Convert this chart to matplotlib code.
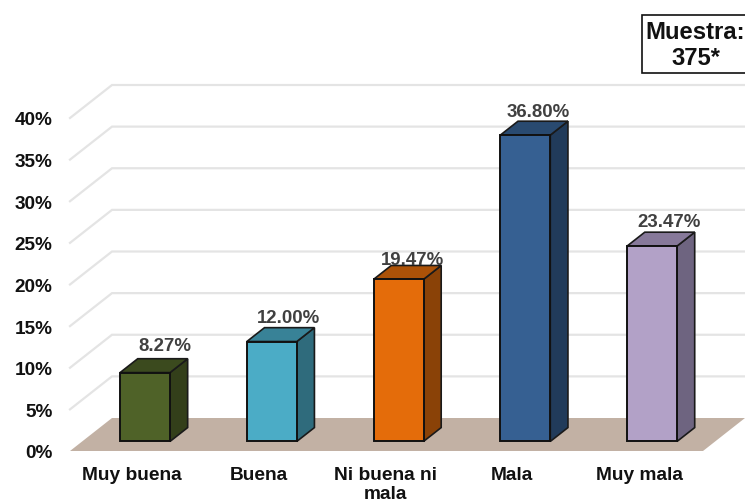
import matplotlib
matplotlib.use("Agg")
import matplotlib.pyplot as plt
from matplotlib.patches import Polygon, Rectangle

plt.rcParams['font.family'] = ['Liberation Sans', 'DejaVu Sans']

categories = ["Muy buena", "Buena", "Ni buena ni\nmala", "Mala", "Muy mala"]
values = [8.27, 12.00, 19.47, 36.80, 23.47]
value_labels = ["8.27%", "12.00%", "19.47%", "36.80%", "23.47%"]
y_ticks = [0, 5, 10, 15, 20, 25, 30, 35, 40]
y_labels = ["0%", "5%", "10%", "15%", "20%", "25%", "30%", "35%", "40%"]
front_colors = ["#4F6228", "#4BACC6", "#E46C0A", "#366092", "#B2A1C7"]
top_colors = ["#3B4A1E", "#388297", "#AC5208", "#294A70", "#87799A"]
side_colors = ["#333F1A", "#2F6B7C", "#8A4207", "#213B5A", "#6E6480"]

W, H = 745, 502
fig = plt.figure(figsize=(W / 100, H / 100), dpi=100)
ax = fig.add_axes([70 / W, (H - 452) / H, (W - 70) / W, 333 / H])
ax.set_xlim(-0.489, 4.836)
ax.set_ylim(0, 40)

# depth of the fake 3d box, in data units
DX = 42 / 126.75
DY = 33 / 8.325
BAR_W = 0.394
D0 = 0.29
D1 = 0.71
BAR_SHIFT = 0.007

# hand offsets of the value labels, in points
nudge_x = [2, 0, -2, -3, 0.5]
nudge_y = [3.5, 1, -2, 1, 1.5]


def proj(x, y, d):
    return (x + d * DX, y + d * DY)


x_left, x_right = ax.get_xlim()

# floor
floor = [proj(x_left, 0, 0), proj(x_left, 0, 1), (x_right, proj(x_left, 0, 1)[1]), (x_right - DX, 0)]
ax.add_patch(Polygon(floor, closed=True, fc="#C2B1A4", ec="none", zorder=1, clip_on=False))

# gridlines on the wall
for t in y_ticks[1:]:
    back = proj(x_left, t, 1)
    ax.plot([x_left, back[0], x_right], [t, back[1], back[1]],
            color="#E4E4E4", lw=1.6, zorder=1, clip_on=False, solid_joinstyle="miter")

# bars
for i, v in enumerate(values):
    x0 = i - BAR_W / 2 + BAR_SHIFT
    x1 = i + BAR_W / 2 + BAR_SHIFT
    front = [proj(x0, 0, D0), proj(x1, 0, D0), proj(x1, v, D0), proj(x0, v, D0)]
    side = [proj(x1, 0, D0), proj(x1, 0, D1), proj(x1, v, D1), proj(x1, v, D0)]
    top = [proj(x0, v, D0), proj(x1, v, D0), proj(x1, v, D1), proj(x0, v, D1)]
    ax.add_patch(Polygon(side, closed=True, fc=side_colors[i], ec="#1A1A1A", lw=1.2, zorder=3, clip_on=False))
    ax.add_patch(Polygon(top, closed=True, fc=top_colors[i], ec="#1A1A1A", lw=1.2, zorder=3, clip_on=False))
    ax.add_patch(Polygon(front, closed=True, fc=front_colors[i], ec="#111111", lw=1.4, zorder=4, clip_on=False))
    lx, ly = proj(i, v, D1)
    ax.annotate(value_labels[i], (lx, ly), xytext=(nudge_x[i], nudge_y[i]), textcoords="offset points",
                ha="center", va="bottom", fontsize=13.4, fontweight="bold", color="#404040",
                zorder=5, annotation_clip=False)

ax.set_yticks(y_ticks)
ax.set_yticklabels(y_labels, fontsize=13.7, fontweight="bold", color="#111111")
ax.set_xticks(range(len(categories)))
ax.set_xticklabels(categories, fontsize=13.8, fontweight="bold", color="#111111", linespacing=1.12)
ax.tick_params(axis="both", length=0)
ax.tick_params(axis="y", pad=12.5)
ax.tick_params(axis="x", pad=11)
for s in ax.spines.values():
    s.set_visible(False)
ax.patch.set_alpha(0)

# sample size box
fig.add_artist(Rectangle((642 / W, (H - 74) / H), 110 / W, 58 / H, transform=fig.transFigure,
                         fc="white", ec="#111111", lw=1.2))
fig.text(695.5 / W, (H - 45.5) / H, "Muestra:\n375*", ha="center", va="center", fontsize=17.2,
         fontweight="bold", color="#111111", linespacing=1.15)

fig.savefig("out.png", dpi=100)
